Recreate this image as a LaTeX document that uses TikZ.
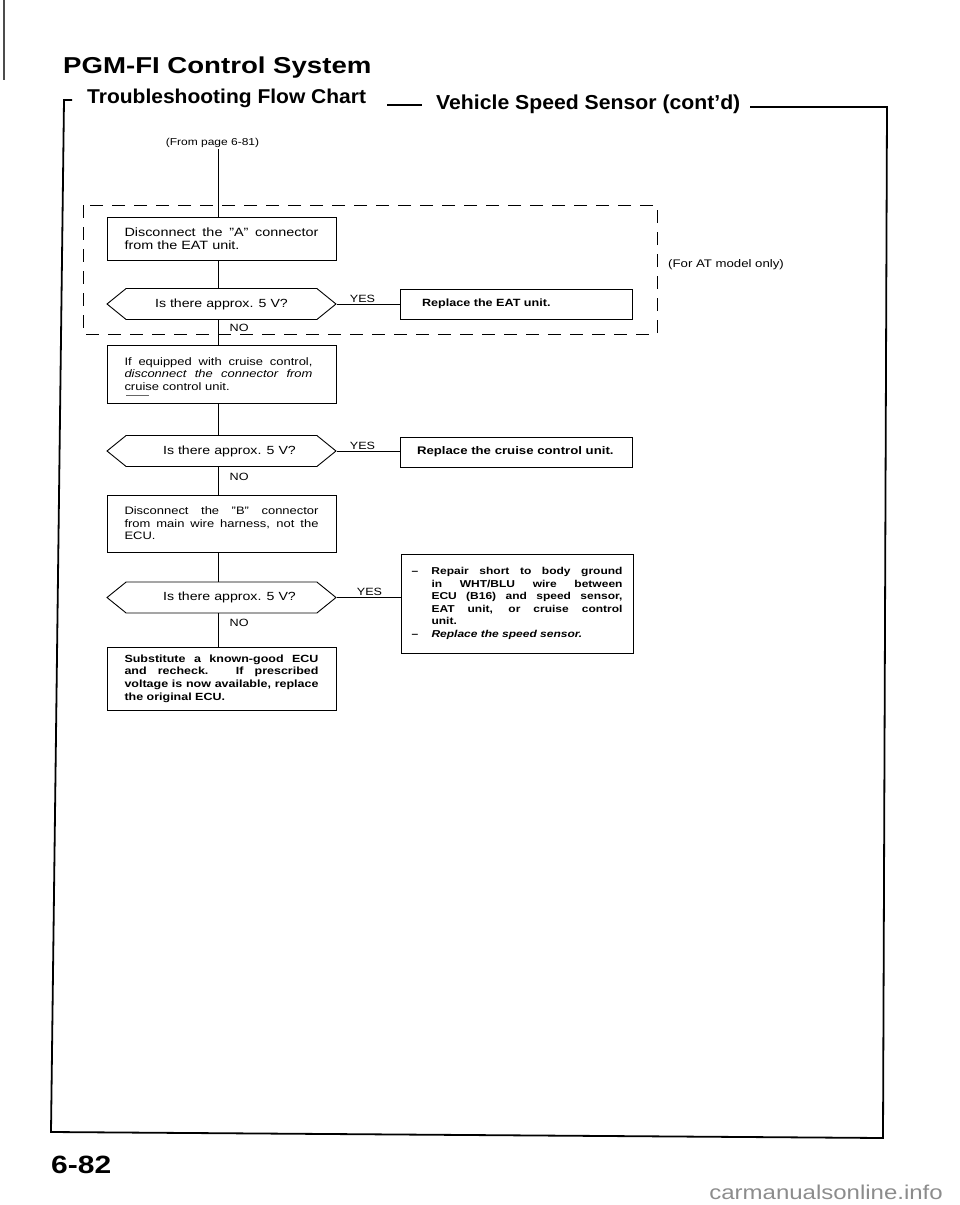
\documentclass[tikz,border=0pt]{standalone}
\usepackage{fontspec}
\setmainfont{Liberation Sans}[FakeStretch=1.2]
\newfontfamily\headfont{Liberation Sans}[FakeStretch=1.05, Ligatures=TeX]
\usetikzlibrary{positioning,shapes.symbols}
\newcommand{\fline}[2][194pt]{\makebox[#1][s]{\spaceskip=0pt\xspaceskip=0pt\relax#2}\\}
\newcommand{\dline}[2]{\makebox[20pt][l]{#1}\fline[191pt]{#2}}
\begin{document}
\begin{tikzpicture}[x=1pt, y=-1pt,
  box/.style={draw, line width=0.9pt, minimum width=229pt, text width=194pt, inner xsep=17.5pt, inner ysep=2pt, align=left},
  ask/.style={draw, line width=0.9pt, signal, signal to=west and east, signal pointer angle=78, minimum width=229pt, minimum height=31pt, inner sep=1pt, font=\fontsize{11.8}{14}\selectfont},
  fixbox/.style={draw, line width=0.9pt, align=left, inner ysep=2pt, font=\fontsize{10.5}{12.6}\selectfont\bfseries},
  lbl/.style={inner sep=1pt, font=\fontsize{10.5}{12}\selectfont},
  link/.style={line width=0.9pt},
  frame/.style={line width=1.8pt}]
\useasboundingbox (0,0) rectangle (960,1205);
% page heading
\draw[line width=1.2pt, black!70] (4,0) -- (4,80);
\node[font=\fontsize{23}{27}\selectfont\bfseries, anchor=base west, inner sep=0pt] (title) at (63,73) {PGM-FI Control System};
\node[font=\headfont\fontsize{20}{24}\selectfont\bfseries, anchor=base west, inner sep=0pt] (chart) at (87,103) {Troubleshooting Flow Chart};
\node[font=\headfont\fontsize{20.2}{24}\selectfont\bfseries, anchor=base west, inner sep=0pt] (vss) at (436,109) {Vehicle Speed Sensor (cont\textquoteright d)};
\draw[line width=1.3pt] (387,105) -- (422,105);
\draw[frame] (72,100) -- (64,100) -- (51,1132) -- (883,1138) -- (887,107) -- (750,107);
% flow chart
\node[font=\fontsize{10}{12}\selectfont, inner sep=1pt] (from) at (212.5,143) {(From page 6-81)};
\coordinate (spine) at (218,0);
\draw[dashed, dash pattern=on 13pt off 9pt, line width=0.9pt] (83,205) rectangle (657,334);
\node[font=\fontsize{11}{13}\selectfont, anchor=west, inner sep=0pt] (atonly) at (668,265) {(For AT model only)};
\node[box, minimum height=43pt, font=\fontsize{12}{13.5}\selectfont] (dis1) at (221.5,238.5) {\fline{Disconnect the ''A'' connector}from the EAT unit.};
\node[ask] (ask1) at (221.5,304) {Is there approx. 5 V?};
\node[fixbox, text width=188pt, inner xsep=22pt, minimum height=30pt] (eat) at (516,304) {Replace the EAT unit.};
\node[box, minimum height=58pt, font=\fontsize{10.8}{12.6}\selectfont] (cruise) at (221.5,374) {\fline[188pt]{If equipped with cruise control,}\fline[188pt]{\itshape disconnect the connector from}cruise control unit.};
\node[ask] (ask2) at (221.5,451) {\hspace*{16pt}Is there approx. 5 V?};
\node[fixbox, text width=198pt, inner xsep=17pt, minimum height=30pt, font=\fontsize{11}{13}\selectfont\bfseries] (ccu) at (516,452) {Replace the cruise control unit.};
\node[box, minimum height=57pt, font=\fontsize{10.8}{12.6}\selectfont] (disb) at (221.5,523.5) {\fline{Disconnect the ''B'' connector}\fline{from main wire harness, not the}ECU.};
\node[ask] (ask3) at (221.5,597.5) {\hspace*{16pt}Is there approx. 5 V?};
\node[fixbox, text width=211pt, inner xsep=10.5pt, minimum height=99pt, font=\fontsize{10}{12.6}\selectfont\bfseries] (repair) at (517,603.5) {\dline{\textendash}{Repair short to body ground}\dline{}{in WHT/BLU wire between}\dline{}{ECU (B16) and speed sensor,}\dline{}{EAT unit, or cruise control}\hspace*{20pt}unit.\\\makebox[20pt][l]{\textendash}\textit{Replace the speed sensor.}};
\node[box, minimum height=63pt, font=\fontsize{10.4}{12.6}\selectfont\bfseries] (ecu) at (221.5,678.5) {\fline{Substitute a known-good ECU}\fline{and recheck. If prescribed}\fline{voltage is now available, replace}the original ECU.};
\draw[line width=0.6pt, black!60] (126,395) -- (149,395);
% answers
\node[lbl, above right=0pt and 12pt of ask1.east] (yes1) {YES};
\node[lbl, above right=0pt and 12pt of ask2.east] (yes2) {YES};
\node[lbl, above right=1pt and 19pt of ask3.east] (yes3) {YES};
\node[lbl, below right=3pt and 7pt of ask1.south] (no1) {NO};
\node[lbl, below right=5pt and 7pt of ask2.south] (no2) {NO};
\node[lbl, below right=5pt and 7pt of ask3.south] (no3) {NO};
\draw[link] (from.south -| spine) -- (dis1.north -| spine);
\draw[link] (dis1.south -| spine) -- (ask1.north -| spine);
\draw[link] (ask1.south -| spine) -- (cruise.north -| spine);
\draw[link] (cruise.south -| spine) -- (ask2.north -| spine);
\draw[link] (ask2.south -| spine) -- (disb.north -| spine);
\draw[link] (disb.south -| spine) -- (ask3.north -| spine);
\draw[link] (ask3.south -| spine) -- (ecu.north -| spine);
\draw[link] (ask1.east) -- (eat.west);
\draw[link] (ask2.east) -- (ask2.east -| ccu.west);
\draw[link] (ask3.east) -- (ask3.east -| repair.west);
% page foot
\node[font=\fontsize{25}{30}\selectfont\bfseries, anchor=base west, inner sep=0pt] (page) at (51,1173) {6-82};
\node[font=\fontsize{20}{24}\selectfont, text=black!45, anchor=base east, inner sep=0pt] (site) at (943,1199) {carmanualsonline.info};
\end{tikzpicture}
\end{document}
